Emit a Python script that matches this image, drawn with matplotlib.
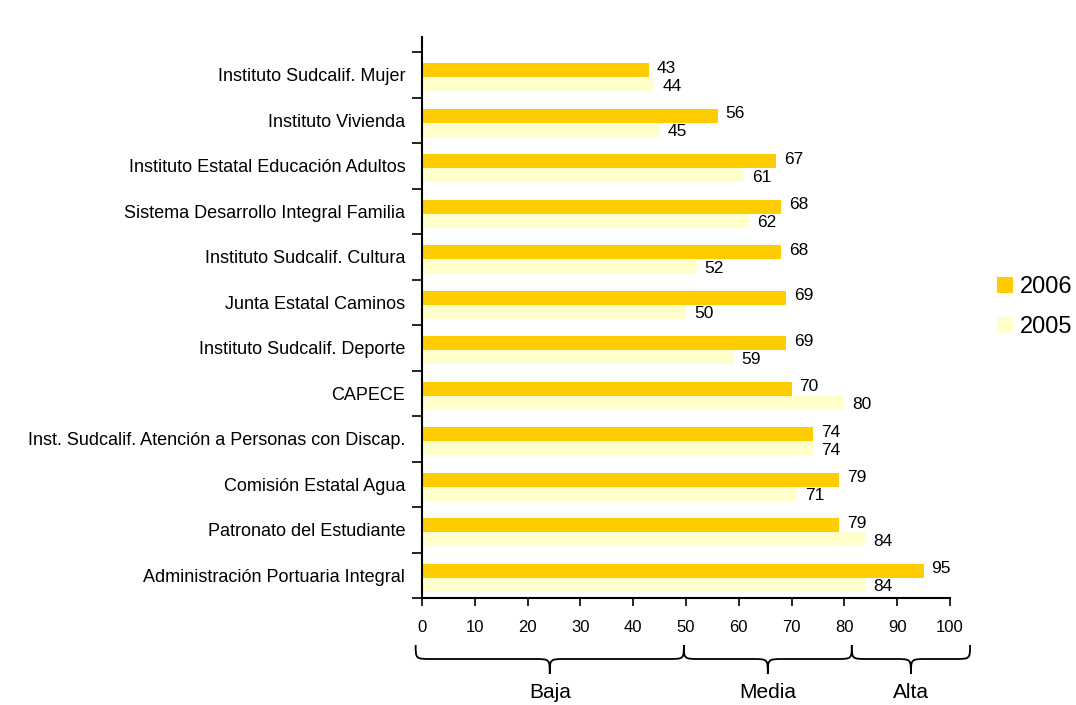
import matplotlib
matplotlib.use("Agg")
import matplotlib.pyplot as plt
import numpy as np
from matplotlib.path import Path
from matplotlib.patches import PathPatch
from matplotlib.transforms import blended_transform_factory

plt.rcParams['font.family'] = ['Liberation Sans', 'DejaVu Sans']

categories = [
    "Instituto Sudcalif. Mujer",
    "Instituto Vivienda",
    "Instituto Estatal Educación Adultos",
    "Sistema Desarrollo Integral Familia",
    "Instituto Sudcalif. Cultura",
    "Junta Estatal Caminos",
    "Instituto Sudcalif. Deporte",
    "CAPECE",
    "Inst. Sudcalif. Atención a Personas con Discap.",
    "Comisión Estatal Agua",
    "Patronato del Estudiante",
    "Administración Portuaria Integral",
]
values_2006 = [43, 56, 67, 68, 68, 69, 69, 70, 74, 79, 79, 95]
values_2005 = [44, 45, 61, 62, 52, 50, 59, 80, 74, 71, 84, 84]
series_names = ["2006", "2005"]
x_ticks = list(range(0, 101, 10))
groups = ["Baja", "Media", "Alta"]
group_bounds = [(-1.2, 49.6), (49.6, 81.4), (81.4, 103.8)]

c2006 = "#FFCC00"
c2005 = "#FFFFCC"

fig = plt.figure(figsize=(10.76, 7.05), dpi=100)
ax = fig.add_axes([422/1076, 1-598/705, (950-422)/1076, (598-37)/705])

n = len(categories)
ypos = np.arange(n)[::-1]  # top category at highest y
h = 0.31
shift = -0.055
b1 = ax.barh(ypos + shift + h/2, values_2006, height=h, color=c2006, label=series_names[0])
b2 = ax.barh(ypos + shift - h/2, values_2005, height=h, color=c2005, label=series_names[1])

for y, v in zip(ypos, values_2006):
    ax.annotate(str(v), (v, y + shift + h/2), xytext=(8, 2), textcoords='offset pixels',
                va='center', ha='left', fontsize=12.5)
for y, v in zip(ypos, values_2005):
    ax.annotate(str(v), (v, y + shift - h/2), xytext=(8, -2), textcoords='offset pixels',
                va='center', ha='left', fontsize=12.5)

ax.set_xlim(0, 100)
ax.set_ylim(-0.5, n - 0.5 + 0.33)
ax.set_xticks(x_ticks)
ax.set_xticklabels([str(t) for t in x_ticks], fontsize=12)
ax.tick_params(axis='x', direction='out', length=6, width=1.2, pad=10)

ax.set_yticks(np.arange(-0.5, n, 1.0))
ax.set_yticklabels([])
ax.tick_params(axis='y', which='major', direction='out', length=7, width=1.2)
ax.set_yticks(ypos, minor=True)
ax.set_yticklabels(categories, minor=True, fontsize=13)
ax.tick_params(axis='y', which='minor', length=0, pad=12)

for s in ['top', 'right']:
    ax.spines[s].set_visible(False)
for s in ['left', 'bottom']:
    ax.spines[s].set_linewidth(1.5)

fig.legend(handles=[b1, b2], loc='upper left', bbox_to_anchor=(997/1076, 1-276/705),
           frameon=False, fontsize=17, handlelength=0.68, handleheight=0.68,
           labelspacing=0.78, handletextpad=0.3, borderpad=0, borderaxespad=0)

# braces
trans = blended_transform_factory(ax.transData, fig.transFigure)
ytop = 1 - 645/705
ymid = 1 - 659/705
ytip = 1 - 674/705
r = 3.0
for (x0, x1), name in zip(group_bounds, groups):
    xm = (x0 + x1) / 2
    verts = [
        (x0, ytop),
        (x0, ymid), (x0, ymid), (x0 + r, ymid),
        (xm - r, ymid),
        (xm, ymid), (xm, ymid), (xm, ytip),
        (xm, ymid), (xm, ymid), (xm + r, ymid),
        (x1 - r, ymid),
        (x1, ymid), (x1, ymid), (x1, ytop),
    ]
    codes = [Path.MOVETO,
             Path.CURVE4, Path.CURVE4, Path.CURVE4,
             Path.LINETO,
             Path.CURVE4, Path.CURVE4, Path.CURVE4,
             Path.CURVE4, Path.CURVE4, Path.CURVE4,
             Path.LINETO,
             Path.CURVE4, Path.CURVE4, Path.CURVE4]
    patch = PathPatch(Path(verts, codes), transform=trans, fill=False,
                      lw=1.3, edgecolor='black', clip_on=False)
    fig.add_artist(patch)
    t = fig.text(0, 1 - 692/705, name, transform=trans, fontsize=15,
                 ha='center', va='center')
    t.set_x(xm)

fig.savefig("out.png", dpi=100)
